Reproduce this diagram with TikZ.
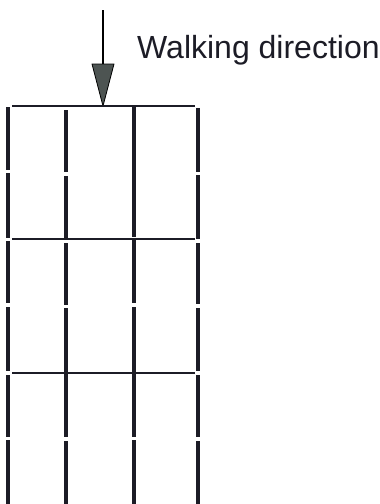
\documentclass[tikz,border=0pt]{standalone}
\usepackage{fontspec}
\setmainfont{Liberation Sans}
\definecolor{ink}{HTML}{1C1C26}
\definecolor{headfill}{HTML}{4D5452}
\begin{document}
\begin{tikzpicture}[x=1pt,y=-1pt,
  vline/.style={draw=ink,line width=3.1pt},
  hline/.style={draw=ink,line width=2.9pt},
  shaft/.style={draw=black,line width=1.8pt},
  head/.style={draw=black,line width=0.8pt,fill=headfill,line join=round}]
\useasboundingbox (0,0) rectangle (380,504);
% arrow
\coordinate (s) at (103,10);
\coordinate (h) at (103,64);
\coordinate (hl) at (92,64);
\coordinate (hr) at (114,64);
\coordinate (tip) at (103,106);
\draw[shaft] (s) -- (h);
\draw[head] (hl) -- (hr) -- (tip) -- cycle;
\node[anchor=base west,inner sep=0pt,text=ink,font=\fontsize{32}{38}\selectfont] (lbl) at (137,58) {Walking direction};
% horizontal lines
\foreach \y in {106,239,373} \draw[hline] (12,\y) -- (195,\y);
% vertical segments
\foreach \a/\b in {107/170,173/238,241/303,307/371,375/437,440/504} \draw[vline] (8,\a) -- (8,\b);
\foreach \a/\b in {110/172,176/238,243/305,308/437,441/504} \draw[vline] (66,\a) -- (66,\b);
\foreach \a/\b in {107/237,240/303,307/437,440/504} \draw[vline] (134,\a) -- (134,\b);
\foreach \a/\b in {108/172,175/239,243/304,308/371,375/437,441/504} \draw[vline] (198,\a) -- (198,\b);
\end{tikzpicture}
\end{document}
